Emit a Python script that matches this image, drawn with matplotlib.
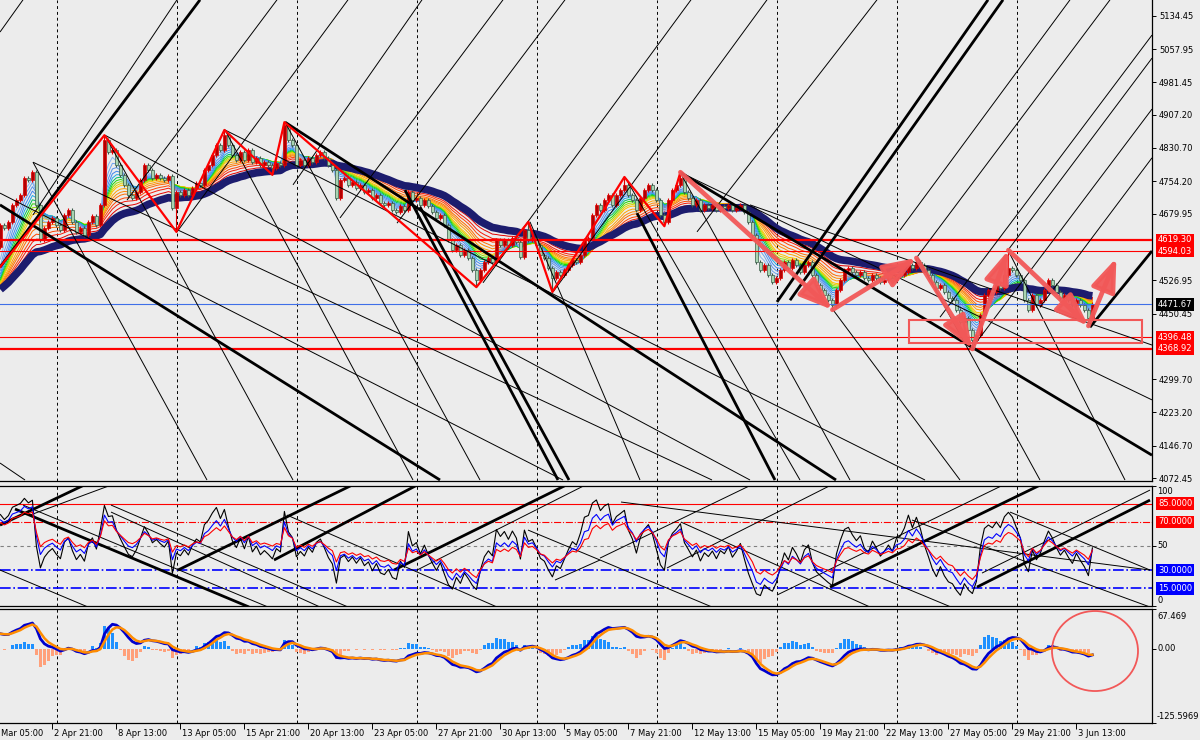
"""
    H4 chart recreation: candles with EMA ribbon, trendline objects,
    three-line RSI window and MACD window (MT4 look).
"""

import numpy as np
import matplotlib
matplotlib.use('Agg')
import matplotlib.pyplot as plt
from matplotlib.patches import Rectangle, Ellipse
from matplotlib.transforms import blended_transform_factory

plt.rcParams['font.family'] = ['DejaVu Sans']
plt.rcParams['font.size'] = 6

# ============================================================
# Data
# ============================================================

first_open = 4603

closes_early_apr = [
    4654, 4647, 4661, 4700, 4711, 4723, 4762, 4757, 4775, 4700,
    4619, 4647, 4661, 4670, 4654, 4642, 4677, 4688, 4661, 4638,
    4647, 4631, 4661, 4674, 4654, 4700, 4849, 4821, 4826, 4792,
    4769, 4746, 4723, 4716, 4730, 4757, 4792, 4780, 4762, 4769,
    4762, 4757, 4766, 4693, 4730, 4723, 4734, 4723, 4739, 4750,
    4746, 4780, 4792, 4815, 4838, 4826, 4860, 4838, 4815, 4803,
    4821, 4803, 4826, 4798, 4808, 4792, 4798, 4792,
]
closes_late_apr = [
    4785, 4796, 4792, 4883, 4849, 4838, 4792, 4803, 4792, 4808,
    4798, 4815, 4821, 4808, 4792, 4780, 4716, 4757, 4762, 4746,
    4753, 4739, 4746, 4730, 4734, 4716, 4723, 4704, 4700, 4704,
    4688, 4684, 4697, 4688, 4730, 4711, 4716, 4700, 4711, 4697,
    4684, 4670, 4677, 4654, 4619, 4596, 4608, 4585, 4596, 4578,
    4550, 4527, 4550, 4569, 4578, 4569, 4619, 4608, 4619, 4608,
    4624, 4615, 4580, 4642, 4619, 4624, 4608, 4585,
]
closes_early_may = [
    4578, 4555, 4532, 4546, 4539, 4550, 4562, 4573, 4569, 4585,
    4619, 4624, 4677, 4700, 4688, 4711, 4723, 4700, 4723, 4734,
    4746, 4723, 4711, 4688, 4716, 4734, 4746, 4734, 4711, 4677,
    4661, 4711, 4734, 4746, 4762, 4730, 4716, 4700, 4711, 4688,
    4700, 4693, 4700, 4688, 4697, 4693, 4700, 4688, 4693, 4700,
    4684, 4661, 4631, 4569, 4550, 4562, 4539, 4523, 4532, 4550,
    4569, 4555, 4573, 4562, 4546, 4562, 4569, 4539,
]
closes_late_may = [
    4516, 4504, 4493, 4481, 4470, 4504, 4527, 4550, 4555, 4546,
    4539, 4546, 4532, 4527, 4539, 4532, 4523, 4527, 4532, 4527,
    4537, 4539, 4546, 4562, 4555, 4569, 4562, 4550, 4539, 4523,
    4509, 4516, 4500, 4486, 4481, 4459, 4431, 4440, 4413, 4390,
    4401, 4447, 4493, 4504, 4500, 4516, 4509, 4539, 4555, 4550,
    4539, 4527, 4481, 4459, 4493, 4470, 4481, 4504, 4527, 4516,
    4500, 4486, 4493, 4481, 4470, 4481, 4470, 4459, 4440, 4471.67,
]

# red zigzag swing points (bar index, price)
zigzag_bars = [-0.1, 26, 44, 56, 68, 71, 119, 132, 138, 156, 166, 170]
zigzag_prices = [4557, 4860, 4638, 4872, 4769, 4890, 4511, 4661, 4500, 4764, 4651, 4775]

# hand-drawn forecast arrows
arrow_bars = [170, 208, 229, 243, 252, 272, 279]
arrow_prices = [4775, 4459, 4578, 4369, 4596, 4422, 4578]

# horizontal levels
thick_levels = [4619.30, 4368.92]
thin_levels = [4594.03, 4396.48]
last_price = 4471.67

# support box (bars, prices)
box_bars = [227.15, 285.4]
box_prices = [4382.7, 4435.6]

# trendline objects: (bar1, price1, bar2, price2)
main_thick_lines = [
    (-0.1, 4557, 49.9, 5171), (194.15, 4477, 246.9, 5171),
    (197.4, 4481, 250.65, 5171), (272.4, 4419, 287.9, 4594),
    (-0.1, 4700, 109.9, 4068), (71.15, 4890, 208.9, 4068),
    (169.9, 4775, 287.9, 4125), (104.9, 4695, 142.15, 4068),
    (101.15, 4734, 139.4, 4068), (159.15, 4681, 193.65, 4068),
]
main_thin_lines = [
    (-0.1, 5097, 5.65, 5171), (8.15, 4677, 44.15, 5171),
    (31.65, 4711, 69.15, 5171), (44.15, 4638, 86.9, 5171),
    (73.15, 4746, 105.4, 5171), (84.9, 4670, 125.65, 5171),
    (99.15, 4658, 141.15, 5171), (120.65, 4521, 172.65, 5171),
    (138.15, 4500, 191.65, 5171), (174.15, 4638, 219.15, 5171),
    (229.15, 4580, 277.4, 5171), (243.15, 4374, 287.9, 4920),
    (259.9, 4465, 287.9, 4808), (251.9, 4596, 287.9, 5037),
    (224.9, 4642, 267.4, 5171), (234.9, 4442, 287.9, 5090),
    (8.15, 4798, 177.9, 4068), (8.15, 4798, 51.65, 4068),
    (-0.1, 4727, 140.65, 4068), (26.15, 4860, 187.4, 4068),
    (26.15, 4860, 73.15, 4068), (56.15, 4872, 103.15, 4068),
    (71.15, 4890, 119.9, 4068), (-0.1, 4107, 6.15, 4068),
    (56.15, 4872, 231.15, 4068), (132.4, 4661, 159.9, 4068),
    (156.15, 4764, 199.9, 4068), (169.9, 4775, 212.4, 4068),
    (169.9, 4775, 287.9, 4252), (229.4, 4578, 259.9, 4068),
    (251.9, 4596, 281.15, 4068), (208.15, 4459, 239.9, 4068),
    (187.4, 4700, 287.9, 4378),
]
osc_thick_lines = [
    (-0.1, 67.3, 20.9, 100.4), (3.65, 80.6, 62.15, -0.5),
    (44.4, 30.1, 87.9, 100.4), (68.4, 38.4, 104.15, 100.4),
    (98.4, 30.1, 141.4, 100.4), (207.4, 16.0, 259.9, 100.4),
    (244.15, 16.0, 287.4, 88.0),
]
osc_thin_lines = [
    (7.4, 75.6, 27.65, 100.4), (5.65, 83.9, 66.9, -0.5),
    (-0.1, 30.1, 21.9, -0.5), (27.65, 83.9, 86.9, -0.5),
    (27.65, 78.1, 79.9, -0.5), (71.65, 75.6, 124.15, -0.5),
    (104.15, 30.1, 147.15, 102.0), (138.65, 21.8, 149.9, 38.4),
    (131.9, 63.2, 149.9, 38.4), (149.9, 40.0, 187.65, 100.4),
    (155.15, 86.4, 287.4, 30.1), (149.9, 38.4, 177.9, -0.5),
    (170.15, 69.8, 217.4, -0.5), (166.65, 31.8, 207.65, 100.4),
    (200.4, 50.8, 237.65, -0.5), (194.15, 9.4, 250.65, 100.4),
    (245.4, 27.6, 287.4, 96.3), (252.4, 78.1, 287.4, 30.1),
    (227.9, 71.5, 287.4, -0.5),
]

# axis labels (first one is only partly on screen in the original)
price_ticks = [5134.45, 5057.95, 4981.45, 4907.20, 4830.70, 4754.20, 4679.95,
               4526.95, 4450.45, 4299.70, 4223.20, 4146.70, 4072.45]
time_tick_bars = [-3, 13, 29, 45, 61, 77, 93, 109, 125, 141, 157, 173, 189,
                  205, 221, 237, 253, 269]
time_tick_labels = ['Mar 05:00', '2 Apr 21:00', '8 Apr 13:00', '13 Apr 05:00',
                    '15 Apr 21:00', '20 Apr 13:00', '23 Apr 05:00', '27 Apr 21:00',
                    '30 Apr 13:00', '5 May 05:00', '7 May 21:00', '12 May 13:00',
                    '15 May 05:00', '19 May 21:00', '22 May 13:00', '27 May 05:00',
                    '29 May 21:00', '3 Jun 13:00']
grid_bars = [14.25, 44.25, 74.25, 104.25, 134.25, 164.25, 194.25, 224.25, 254.25]

# indicator settings
ma_seed = 4497
ribbon_periods = [3, 4, 5, 6, 7, 8, 9, 10, 11, 12, 14, 16, 18, 21, 24, 28]
ribbon_colors = ['#8AB8F0', '#6CA4EE', '#5592EA', '#3F86F0', '#1FA8E8', '#00C060',
                 '#20D800', '#90E000', '#E0D000', '#FFC000', '#FFA000', '#FF8800',
                 '#FF6A00', '#FF4400', '#F51A0A', '#E00000']
navy_period = 35
rsi_periods = [6, 10, 15]
rsi_colors = ['black', '#0000FF', '#FF0000']
rsi_seed_gain, rsi_seed_loss = 12.0, 7.0
macd_fast, macd_slow, macd_signal = 7, 15, 3
macd_seed_fast, macd_seed_slow = 4625, 4600
hist_gain = 3.0

# ============================================================
# Helpers
# ============================================================

BG = '#ECECEC'
BULL_FACE, BULL_EDGE = '#B40000', '#E00000'
BEAR_FACE, BEAR_EDGE = '#A8D4B0', '#3A5A48'
ARROW = '#F25858'
WICK = 5.0

X_MIN, X_MAX = -0.1, 287.9


def ema(values, period, seed):
    """Exponential moving average started from a seed value."""
    alpha = 2.0 / (period + 1)
    out = np.empty(len(values))
    prev = seed
    for i, v in enumerate(values):
        prev = prev + alpha * (v - prev)
        out[i] = prev
    return out


def rsi(values, period, start, seed_gain, seed_loss):
    """Wilder RSI with seeded averages."""
    avg_gain, avg_loss = seed_gain, seed_loss
    prev = start
    out = np.empty(len(values))
    for i, v in enumerate(values):
        d = v - prev
        prev = v
        avg_gain = (avg_gain * (period - 1) + max(d, 0.0)) / period
        avg_loss = (avg_loss * (period - 1) + max(-d, 0.0)) / period
        out[i] = 100.0 - 100.0 / (1.0 + avg_gain / max(avg_loss, 1e-9))
    return out


def right_box(ax, y, text, color):
    """Coloured price tag on the right scale."""
    tr = blended_transform_factory(ax.transAxes, ax.transData)
    ax.text(1.0 + 6 / 1152, y, text, transform=tr, ha='left', va='center',
            color='white', fontsize=6, clip_on=False, zorder=20,
            bbox=dict(boxstyle='square,pad=0.22', fc=color, ec='none'))


def style_axes(ax):
    ax.set_facecolor(BG)
    ax.set_xlim(X_MIN, X_MAX)
    ax.spines['left'].set_visible(False)
    for side in ('right', 'bottom', 'top'):
        ax.spines[side].set_color('black')
        ax.spines[side].set_linewidth(0.9)
    ax.yaxis.tick_right()
    ax.tick_params(axis='y', direction='out', length=3, width=0.7, pad=2,
                   labelsize=6, colors='black')
    ax.tick_params(axis='x', bottom=False, labelbottom=False)
    for g in grid_bars:
        ax.axvline(g, color='black', lw=0.7, ls=(0, (3, 3)), zorder=1)


def draw_segments(ax, lines, lw, z=4):
    for b1, p1, b2, p2 in lines:
        ax.plot([b1, b2], [p1, p2], color='black', lw=lw, zorder=z,
                solid_capstyle='butt')


# ============================================================
# Build series
# ============================================================

closes = np.array(closes_early_apr + closes_late_apr + closes_early_may + closes_late_may,
                  dtype=float)
n = len(closes)
bars = np.arange(n)
opens = np.r_[first_open, closes[:-1]]
body_lo = np.minimum(opens, closes)
body_hi = np.maximum(opens, closes)
highs = body_hi + WICK
lows = body_lo - WICK
for b, p in zip(zigzag_bars + arrow_bars, zigzag_prices + arrow_prices):
    if 0 <= b < n and b == int(b):
        b = int(b)
        highs[b] = max(highs[b], p)
        lows[b] = min(lows[b], p)
up = closes >= opens

ribbon = [ema(closes, p, ma_seed) for p in ribbon_periods]
navy = ema(closes, navy_period, ma_seed)

rsi_lines = [rsi(closes, p, first_open, rsi_seed_gain, rsi_seed_loss) for p in rsi_periods]

macd = ema(closes, macd_fast, macd_seed_fast) - ema(closes, macd_slow, macd_seed_slow)
signal = ema(macd, macd_signal, macd[0])
hist = (macd - signal) * hist_gain

# ============================================================
# Figure
# ============================================================

fig = plt.figure(figsize=(12, 7.4), dpi=100, facecolor=BG)
W, H = 1200.0, 740.0
ax = fig.add_axes([0, 1 - 481 / H, 1152 / W, 481 / H])
ax_osc = fig.add_axes([0, 1 - 606.4 / H, 1152 / W, 120.8 / H])
ax_macd = fig.add_axes([0, 1 - 723 / H, 1152 / W, 114 / H])

# ---------------- main panel ----------------
style_axes(ax)
ax.spines['top'].set_visible(False)
ax.set_ylim(4065.7, 5170.6)
ax.set_yticks(price_ticks)
ax.set_yticklabels([f'{v:.2f}' for v in price_ticks])

for line, col in zip(ribbon[::-1], ribbon_colors[::-1]):
    ax.plot(bars, line, color=col, lw=0.7, zorder=2)
ax.plot(bars, navy, color='#1C1C6E', lw=5.5, zorder=2.5, solid_capstyle='butt')

ax.vlines(bars[up], lows[up], highs[up], color=BULL_EDGE, lw=0.8, zorder=3)
ax.vlines(bars[~up], lows[~up], highs[~up], color=BEAR_EDGE, lw=0.8, zorder=3)
heights = np.maximum(body_hi - body_lo, 2.0)
ax.bar(bars[up], heights[up], bottom=body_lo[up], width=0.72, color=BULL_FACE,
       edgecolor=BULL_EDGE, lw=0.5, zorder=3.2)
ax.bar(bars[~up], heights[~up], bottom=body_lo[~up], width=0.72, color=BEAR_FACE,
       edgecolor=BEAR_EDGE, lw=0.5, zorder=3.2)

for lv in thick_levels:
    ax.axhline(lv, color='#FF0000', lw=1.6, zorder=3.5)
for lv in thin_levels:
    ax.axhline(lv, color='#FF0000', lw=0.8, zorder=3.5)
ax.axhline(last_price, color='#3F6FE8', lw=0.8, zorder=3.5)

draw_segments(ax, main_thin_lines, 0.7)
draw_segments(ax, main_thick_lines, 2.0)

ax.plot(zigzag_bars, zigzag_prices, color='#FF0000', lw=1.6, zorder=5)

for i in range(len(arrow_bars) - 1):
    ax.annotate('', xy=(arrow_bars[i + 1], arrow_prices[i + 1]),
                xytext=(arrow_bars[i], arrow_prices[i]),
                arrowprops=dict(arrowstyle='-|>,head_length=2.0,head_width=0.75',
                                color=ARROW, lw=3.4, shrinkA=0, shrinkB=0,
                                mutation_scale=10, alpha=0.95),
                zorder=6)

ax.add_patch(Rectangle((box_bars[0], box_prices[0]), box_bars[1] - box_bars[0],
                       box_prices[1] - box_prices[0], fill=False, ec=ARROW,
                       lw=1.5, zorder=6))

right_box(ax, thick_levels[0], f'{thick_levels[0]:.2f}', '#FF0000')
right_box(ax, thin_levels[0], f'{thin_levels[0]:.2f}', '#FF0000')
right_box(ax, last_price, f'{last_price:.2f}', 'black')
right_box(ax, thin_levels[1], f'{thin_levels[1]:.2f}', '#FF0000')
right_box(ax, thick_levels[1], f'{thick_levels[1]:.2f}', '#FF0000')

# ---------------- RSI panel ----------------
style_axes(ax_osc)
ax_osc.set_ylim(0, 100)
ax_osc.set_yticks([100, 50, 0])
ax_osc.set_yticklabels([])
tr = blended_transform_factory(ax_osc.transAxes, ax_osc.transData)
ax_osc.text(1.0 + 5 / 1152, 99, '100', transform=tr, ha='left', va='top', fontsize=6)
ax_osc.text(1.0 + 5 / 1152, 50, '50', transform=tr, ha='left', va='center', fontsize=6)
ax_osc.text(1.0 + 5 / 1152, 1, '0', transform=tr, ha='left', va='bottom', fontsize=6)

ax_osc.axhline(85, color='#FF0000', lw=0.8, zorder=2)
ax_osc.axhline(70, color='#FF0000', lw=0.8, ls='-.', zorder=2)
ax_osc.axhline(50, color='#808080', lw=0.8, ls=(0, (3, 3)), zorder=2)
ax_osc.axhline(30, color='#0000FF', lw=1.2, ls='-.', zorder=2)
ax_osc.axhline(15, color='#0000FF', lw=1.2, ls='-.', zorder=2)

draw_segments(ax_osc, osc_thin_lines, 0.7, z=3)
draw_segments(ax_osc, osc_thick_lines, 2.0, z=3)

for line, col in zip(rsi_lines, rsi_colors):
    ax_osc.plot(bars, line, color=col, lw=0.8, zorder=4)

right_box(ax_osc, 85, '85.0000', '#FF0000')
right_box(ax_osc, 70, '70.0000', '#FF0000')
right_box(ax_osc, 30, '30.0000', '#0000FF')
right_box(ax_osc, 15, '15.0000', '#0000FF')

# ---------------- MACD panel ----------------
style_axes(ax_macd)
ax_macd.set_ylim(-125.5969, 67.469)
ax_macd.set_yticks([67.469, 0.0, -125.5969])
ax_macd.set_yticklabels([])
tr = blended_transform_factory(ax_macd.transAxes, ax_macd.transData)
ax_macd.text(1.0 + 5 / 1152, 63, '67.469', transform=tr, ha='left', va='top', fontsize=6)
ax_macd.text(1.0 + 5 / 1152, 0, '0.00', transform=tr, ha='left', va='center', fontsize=6)
ax_macd.text(1.0 + 5 / 1152, -122, '-125.5969', transform=tr, ha='left', va='bottom',
             fontsize=6)

pos = hist >= 0
ax_macd.bar(bars[pos], hist[pos], width=0.75, color='#1E90FF', zorder=2)
ax_macd.bar(bars[~pos], hist[~pos], width=0.75, color='#FFA07A', zorder=2)
ax_macd.plot(bars, macd, color='#0000CD', lw=2.0, zorder=3)
ax_macd.plot(bars, signal, color='#FF8C00', lw=1.8, zorder=3.1)

ax_macd.add_patch(Ellipse((273.65, -3.7), 21.5, 135.5, fill=False, ec=ARROW,
                          lw=1.3, zorder=6))

ax_macd.set_xticks(time_tick_bars)
ax_macd.set_xlim(X_MIN, X_MAX)
ax_macd.tick_params(axis='x', bottom=True, direction='out', length=4, width=0.7,
                    labelbottom=False)
trx = blended_transform_factory(ax_macd.transData, ax_macd.transAxes)
for b, lab in zip(time_tick_bars, time_tick_labels):
    # the partly hidden first label starts at the left edge
    x_lab = max(b + 0.5, X_MIN + 0.3)
    ax_macd.text(x_lab, -0.09, lab, transform=trx, ha='left', va='center',
                 fontsize=6, clip_on=False)

fig.savefig('out.png', dpi=100, facecolor=BG)
